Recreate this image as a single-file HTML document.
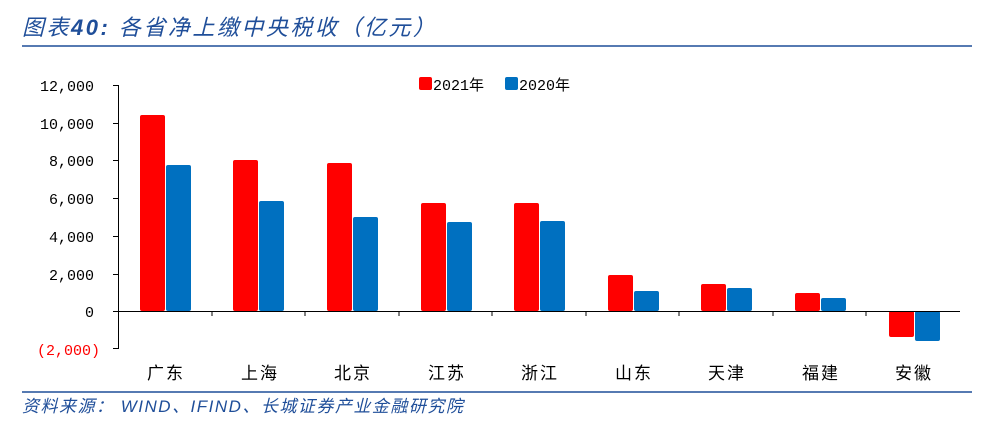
<!DOCTYPE html>
<html><head><meta charset="utf-8"><style>
body{margin:0;background:#fff;width:1001px;height:424px;overflow:hidden}
</style></head><body>
<svg width="1001" height="424" xmlns="http://www.w3.org/2000/svg">
<text x="22" y="35" font-family="Liberation Sans, Noto Sans CJK SC, sans-serif" font-size="22" font-style="italic" fill="#1f4e99" letter-spacing="2.5">图表<tspan font-weight="bold">40:</tspan> 各省净上缴中央税收（亿元）</text>
<line x1="22" y1="46" x2="972" y2="46" stroke="#1f4e99" stroke-width="1.5"/>
<g font-family="Liberation Mono, monospace" font-size="15" text-anchor="end">
<text x="94" y="91">12,000</text><text x="94" y="129">10,000</text><text x="94" y="166">8,000</text>
<text x="94" y="204">6,000</text><text x="94" y="242">4,000</text><text x="94" y="280">2,000</text>
<text x="94" y="317">0</text><text x="100" y="355" fill="#ff0000">(2,000)</text>
</g>
<g stroke="#000" stroke-width="1">
<line x1="118.5" y1="85" x2="118.5" y2="349"/>
<line x1="113" y1="85.5" x2="118" y2="85.5"/><line x1="113" y1="123.5" x2="118" y2="123.5"/>
<line x1="113" y1="160.5" x2="118" y2="160.5"/><line x1="113" y1="198.5" x2="118" y2="198.5"/>
<line x1="113" y1="236.5" x2="118" y2="236.5"/><line x1="113" y1="274.5" x2="118" y2="274.5"/>
<line x1="113" y1="311.5" x2="118" y2="311.5"/><line x1="113" y1="348.5" x2="118" y2="348.5"/>
</g>
<g id="bars"></g>
<line x1="118" y1="311.5" x2="960" y2="311.5" stroke="#000"/>
<g stroke="#000">
<line x1="212" y1="311" x2="212" y2="316"/><line x1="305" y1="311" x2="305" y2="316"/>
<line x1="399" y1="311" x2="399" y2="316"/><line x1="492" y1="311" x2="492" y2="316"/>
<line x1="586" y1="311" x2="586" y2="316"/><line x1="679" y1="311" x2="679" y2="316"/>
<line x1="773" y1="311" x2="773" y2="316"/><line x1="866" y1="311" x2="866" y2="316"/>
</g>
<g font-family="Noto Sans CJK SC, sans-serif" font-size="17" text-anchor="middle" letter-spacing="2">
<text x="166" y="379">广东</text><text x="260" y="379">上海</text><text x="353" y="379">北京</text>
<text x="447" y="379">江苏</text><text x="540" y="379">浙江</text><text x="634" y="379">山东</text>
<text x="727" y="379">天津</text><text x="821" y="379">福建</text><text x="914" y="379">安徽</text>
</g>
<rect x="419" y="77" width="13" height="13" rx="2" fill="#ff0000"/>
<text x="433" y="90" font-family="Liberation Mono, Noto Sans CJK SC, monospace" font-size="15">2021年</text>
<rect x="505" y="77" width="13" height="13" rx="2" fill="#0070c0"/>
<text x="519" y="90" font-family="Liberation Mono, Noto Sans CJK SC, monospace" font-size="15">2020年</text>
<line x1="22" y1="392" x2="972" y2="392" stroke="#1f4e99" stroke-width="1.5"/>
<text x="22" y="412" font-family="Liberation Sans, Noto Sans CJK SC, sans-serif" font-size="17" font-style="italic" fill="#1f4e99" letter-spacing="1.5">资料来源： WIND、IFIND、长城证券产业金融研究院</text>
</svg>
<script>
var d=[[115,165],[160,201],[163,217],[203,222],[203,221],[275,291],[284,288],[293,298],[337,341]];
var g=document.getElementById('bars'),s='';
d.forEach(function(v,i){var c=Math.round(118+93.6*(i+0.5));
function r(x,y,col){var t=Math.min(y,311),h=Math.abs(311-y);s+='<rect x="'+x+'" y="'+t+'" width="25" height="'+h+'" rx="2" fill="'+col+'"/>';}
r(c-25,v[0],'#ff0000');r(c+1,v[1],'#0070c0');});
g.innerHTML=s;
</script>
</body></html>
